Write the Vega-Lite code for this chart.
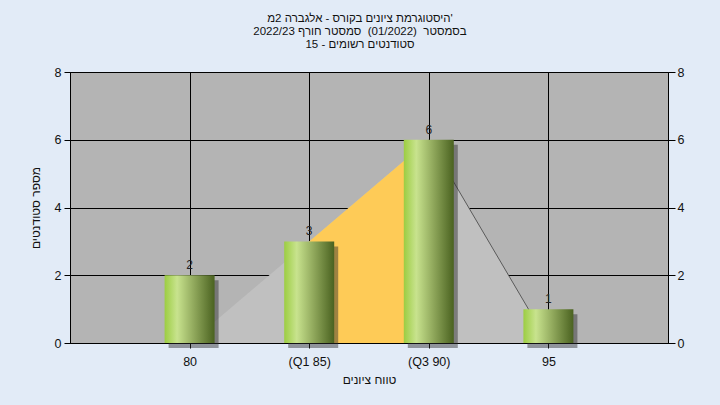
{
  "$schema": "https://vega.github.io/schema/vega-lite/v6.json",
  "width": 598,
  "height": 271,
  "autosize": "none",
  "padding": {"left": 70, "top": 72, "right": 52, "bottom": 62},
  "background": "#e2ebf7",
  "config": {
    "font": "Liberation Sans",
    "view": {"fill": "#b4b4b4", "stroke": "#000000", "strokeWidth": 1},
    "axis": {
      "domainColor": "#000000",
      "tickColor": "#000000",
      "gridColor": "#000000",
      "gridOpacity": 1,
      "gridWidth": 1,
      "labelColor": "#111111",
      "labelFont": "Liberation Sans",
      "labelFontSize": 12.5,
      "titleFont": "Liberation Sans",
      "titleFontSize": 12,
      "titleFontWeight": "normal",
      "titleColor": "#111111"
    }
  },
  "title": {
    "text": ["היסטוגרמת ציונים בקורס - אלגברה 2מ'", "בסמסטר\u00a0\u00a0(01/2022)\u00a0\u00a0סמסטר חורף 2022/23", "סטודנטים רשומים - 15"],
    "fontSize": 11.5,
    "fontWeight": "normal",
    "color": "#111111",
    "anchor": "middle",
    "dx": -9,
    "offset": 16,
    "lineHeight": 13
  },
  "datasets": {
    "bars": [
      {"score": 80, "count": 2},
      {"score": 85, "count": 3},
      {"score": 90, "count": 6},
      {"score": 95, "count": 1}
    ],
    "curve": [
      {"score": 80, "v": 0},
      {"score": 85, "v": 3},
      {"score": 90, "v": 6},
      {"score": 95, "v": 0}
    ],
    "iqr": [
      {"score": 85, "v": 3},
      {"score": 90, "v": 6}
    ],
    "tail": [
      {"score": 90, "v": 6},
      {"score": 95, "v": 0}
    ]
  },
  "layer": [
    {
      "data": {"name": "curve"},
      "mark": {"type": "area", "color": "#c0c0c0"},
      "encoding": {
        "x": {
          "field": "score", "type": "quantitative",
          "scale": {"domain": [75, 100], "nice": false, "zero": false, "padding": 0},
          "axis": {
            "values": [80, 85, 90, 95],
            "labelExpr": "datum.value == 85 ? '(Q1 85)' : datum.value == 90 ? '(Q3 90)' : datum.label",
            "title": "טווח ציונים",
            "grid": true,
            "tickSize": 5,
            "labelPadding": 7,
            "titlePadding": 7,
            "labelAngle": 0
          }
        },
        "y": {
          "field": "v", "type": "quantitative",
          "scale": {"domain": [0, 8], "nice": false},
          "axis": {
            "values": [0, 2, 4, 6, 8],
            "title": "מספר סטודנטים",
            "grid": true,
            "tickSize": 6,
            "labelPadding": 3,
            "titlePadding": 12
          }
        }
      }
    },
    {
      "data": {"name": "iqr"},
      "mark": {"type": "area", "color": "#fecb57"},
      "encoding": {
        "x": {"field": "score", "type": "quantitative"},
        "y": {"field": "v", "type": "quantitative", "axis": null}
      }
    },
    {
      "data": {"name": "tail"},
      "mark": {"type": "line", "color": "#5a5a5a", "strokeWidth": 1},
      "encoding": {
        "x": {"field": "score", "type": "quantitative"},
        "y": {"field": "v", "type": "quantitative", "axis": null}
      }
    },
    {
      "data": {"name": "bars"},
      "mark": {"type": "bar", "orient": "vertical", "size": 50, "color": "#2a2a2a", "opacity": 0.45, "xOffset": 4, "yOffset": 5},
      "encoding": {
        "x": {"field": "score", "type": "quantitative"},
        "y": {"field": "count", "type": "quantitative", "axis": null}
      }
    },
    {
      "data": {"name": "bars"},
      "mark": {
        "type": "bar", "orient": "vertical", "size": 50,
        "color": {
          "gradient": "linear", "x1": 0, "x2": 1, "y1": 0, "y2": 0,
          "stops": [
            {"offset": 0, "color": "#9ccd42"},
            {"offset": 0.25, "color": "#c8e38e"},
            {"offset": 0.6, "color": "#8ea65a"},
            {"offset": 1, "color": "#4a6220"}
          ]
        }
      },
      "encoding": {
        "x": {"field": "score", "type": "quantitative"},
        "y": {"field": "count", "type": "quantitative", "axis": null}
      }
    },
    {
      "data": {"name": "bars"},
      "mark": {"type": "text", "baseline": "bottom", "dy": -3, "fontSize": 12, "color": "#222222"},
      "encoding": {
        "x": {"field": "score", "type": "quantitative"},
        "y": {
          "field": "count", "type": "quantitative",
          "axis": {"orient": "right", "values": [0, 2, 4, 6, 8], "title": null, "grid": false, "tickSize": 7, "labelPadding": 2}
        },
        "text": {"field": "count", "type": "quantitative"}
      }
    },
    {
      "mark": {"type": "text", "text": "במשימה : ציון סופי במערכת האקדמית במחשב המרכזי", "fontSize": 12, "color": "#222222", "baseline": "middle"},
      "encoding": {
        "x": {"datum": 87.5, "type": "quantitative"},
        "y": {"datum": 7.62, "type": "quantitative", "axis": null}
      }
    }
  ],
  "resolve": {"axis": {"y": "independent"}}
}
